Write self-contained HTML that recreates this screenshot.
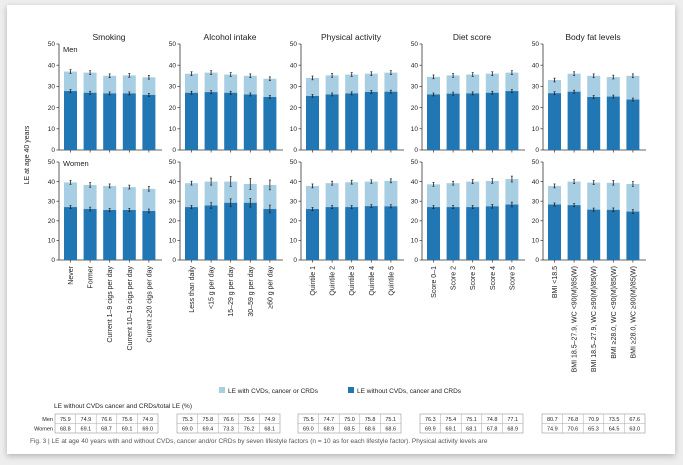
<!DOCTYPE html>
<html><head><meta charset="utf-8"><style>
body{margin:0;width:683px;height:465px;background:#eeeeee;font-family:"Liberation Sans",sans-serif;overflow:hidden}
#card{position:absolute;left:7px;top:5px;width:668px;height:449px;background:#fff;box-shadow:0 2px 6px rgba(0,0,0,.25)}
svg{position:absolute;left:0;top:0}
</style></head><body>
<div id="card"></div>
<svg id="chart" width="683" height="465"></svg>
<script>
const panels=["Smoking","Alcohol intake","Physical activity","Diet score","Body fat levels"];
const cats=[["Never","Former","Current 1–9 cigs per day","Current 10–19 cigs per day","Current ≥20 cigs per day"],
["Less than daily","<15 g per day","15–29 g per day","30–59 g per day","≥60 g per day"],
["Quintile 1","Quintile 2","Quintile 3","Quintile 4","Quintile 5"],
["Score 0–1","Score 2","Score 3","Score 4","Score 5"],
["BMI <18.5","BMI 18.5–27.9, WC <90(M)/85(W)","BMI 18.5–27.9, WC ≥90(M)/85(W)","BMI ≥28.0, WC <90(M)/85(W)","BMI ≥28.0, WC ≥90(M)/85(W)"]];
const menTotal=[[37,36.5,35,35.2,34.3],[36,36.5,35.6,35,33.6],[34,35.2,35.6,36,36.5],[34.5,35.2,35.6,36,36.5],[33,36,35,34.4,35]];
const menWithout=[[27.8,27,26.7,26.7,26],[27,27.3,27,26.2,25],[25.5,26.2,26.7,27.4,27.5],[26.2,26.6,26.7,27,27.8],[26.8,27.5,25,25.2,23.8]];
const womenTotal=[[39.6,38.3,37.8,37.2,36.3],[39.2,40,40,38.8,38.3],[37.8,39.2,39.7,40,40.4],[38.6,39.2,40,40.3,41.3],[37.8,40,39.5,39.4,38.8]];
const womenWithout=[[27,26,25.5,25.5,25],[27,27.8,29.2,29.2,26],[26,27,27,27.5,27.4],[27,27,27,27.4,28.3],[28.3,28,25.7,25.6,24.7]];
const womenErr=[[1,1.2,1,1,1.2],[1,1.8,2.5,2.8,2.5],[1,1,1,0.9,1],[1,1,1,1.2,1.5],[1,1,1,1.2,1.2]];
const yTicks=[0,10,20,30,40,50];
const menPct=[[75.9,74.9,76.6,75.6,74.9],[75.3,75.8,76.6,75.6,74.9],[75.5,74.7,75.0,75.8,75.1],[76.3,75.4,75.1,74.8,77.1],[80.7,76.8,70.9,73.5,67.6]];
const womenPct=[[68.8,69.1,68.7,69.1,69.0],[69.0,69.4,73.3,76.2,68.1],[69.0,68.9,68.5,68.6,68.6],[69.9,69.1,68.1,67.8,68.9],[74.9,70.6,65.3,64.5,63.0]];

const S=document.getElementById('chart'),NS="http://www.w3.org/2000/svg";
function mk(t,a,p){const e=document.createElementNS(NS,t);for(const k in a)e.setAttribute(k,a[k]);(p||S).appendChild(e);return e;}
const axX=[59,180,301,422,543];
const rows=[{y0:150,sc:2.12,tot:menTotal,wo:menWithout,err:null,lab:"Men"},{y0:260,sc:1.96,tot:womenTotal,wo:womenWithout,err:womenErr,lab:"Women"}];
const DARK="#2176b4",LIGHT="#a8cee4";
function xb(p,i){return axX[p]+5+i*19.6;}
panels.forEach((name,p)=>{
  const t=mk('text',{x:axX[p]+50,y:40,'font-size':8.5,'text-anchor':'middle',fill:'#222'});
  t.textContent=name;
  
  
  rows.forEach((r,ri)=>{
    const Y=v=>r.y0-v*r.sc;
    const g=mk('g',{});
    
    
    mk('line',{x1:axX[p],x2:axX[p],y1:Y(50),y2:r.y0,stroke:'#333','stroke-width':0.8},g);
    mk('line',{x1:axX[p],x2:axX[p]+103,y1:r.y0,y2:r.y0,stroke:'#333','stroke-width':0.8},g);
    yTicks.forEach(v=>{
      mk('line',{x1:axX[p]-2.5,x2:axX[p],y1:Y(v),y2:Y(v),stroke:'#333','stroke-width':0.7},g);
      const tt=mk('text',{x:axX[p]-4,y:Y(v)+2.2,'font-size':6.5,'text-anchor':'end',fill:'#222'},g);tt.textContent=v;
    });
    for(let i=0;i<5;i++){
      const x=xb(p,i),tot=r.tot[p][i],wo=r.wo[p][i],e=r.err?r.err[p][i]:0.9;
      const b1=mk('rect',{x:x,y:Y(tot),width:13,height:(tot-wo)*r.sc,fill:LIGHT},g);
      
      
      const b2=mk('rect',{x:x,y:Y(wo),width:13,height:wo*r.sc,fill:DARK},g);
      
      
      [[tot,e],[wo,r.err?Math.max(0.7,e*0.8):0.7]].forEach(([v,er])=>{
        mk('line',{x1:x+6.5,x2:x+6.5,y1:Y(v+er),y2:Y(v-er),stroke:'#222','stroke-width':0.8},g);
        mk('line',{x1:x+5.5,x2:x+7.5,y1:Y(v+er),y2:Y(v+er),stroke:'#222','stroke-width':0.7},g);
        mk('line',{x1:x+5.5,x2:x+7.5,y1:Y(v-er),y2:Y(v-er),stroke:'#222','stroke-width':0.7},g);
      });
      mk('line',{x1:x+6.5,x2:x+6.5,y1:r.y0,y2:r.y0+2.5,stroke:'#333','stroke-width':0.7},g);
      if(ri==1){
        const ct=mk('text',{transform:`translate(${x+9},${r.y0+6}) rotate(-90)`,'font-size':7,'text-anchor':'end',fill:'#222'},g);
        ct.textContent=cats[p][i];
        
        
      }
    }
    if(p==0){const l=mk('text',{x:axX[0]+4,y:ri?166:52,'font-size':7.5,fill:'#222'},g);l.textContent=r.lab;}
  });
  const tx=[55,177,298,420,542][p],cw=20.6;
  const tg=mk('g',{});
  
  
  mk('rect',{x:tx,y:414,width:cw*5,height:19,fill:'#fff',stroke:'#999','stroke-width':0.6},tg);
  mk('line',{x1:tx,x2:tx+cw*5,y1:423.5,y2:423.5,stroke:'#aaa','stroke-width':0.5},tg);
  for(let i=0;i<5;i++){
    if(i)mk('line',{x1:tx+i*cw,x2:tx+i*cw,y1:414,y2:433,stroke:'#aaa','stroke-width':0.5},tg);
    const a=mk('text',{x:tx+i*cw+cw/2,y:421,'font-size':5.5,'text-anchor':'middle',fill:'#222'},tg);a.textContent=menPct[p][i].toFixed(1);
    const b=mk('text',{x:tx+i*cw+cw/2,y:430.5,'font-size':5.5,'text-anchor':'middle',fill:'#222'},tg);b.textContent=womenPct[p][i].toFixed(1);
  }
});
const yl=mk('text',{transform:'translate(29,155) rotate(-90)','font-size':7,'text-anchor':'middle',fill:'#222'});yl.textContent='LE at age 40 years';

[['LE with CVDs, cancer or CRDs',219,LIGHT],['LE without CVDs, cancer and CRDs',348,DARK]].forEach(([s,x,c])=>{
  const g=mk('g',{});
  
  
  mk('rect',{x:x,y:387,width:6,height:6,fill:c},g);
  const t=mk('text',{x:x+9,y:393,'font-size':6.5,fill:'#222'},g);t.textContent=s;
});
const tt=mk('text',{x:54,y:408,'font-size':6.5,fill:'#222'});tt.textContent='LE without CVDs cancer and CRDs/total LE (%)';

[['Men',421],['Women',430.5]].forEach(([s,y])=>{const t=mk('text',{x:53,y:y,'font-size':5.5,'text-anchor':'end',fill:'#222'});t.textContent=s;});
const cap=mk('text',{x:30,y:443,'font-size':6.5,fill:'#555'});cap.textContent='Fig. 3 | LE at age 40 years with and without CVDs, cancer and/or CRDs by seven lifestyle factors (n = 10 as for each lifestyle factor). Physical activity levels are';

</script>
</body></html>
